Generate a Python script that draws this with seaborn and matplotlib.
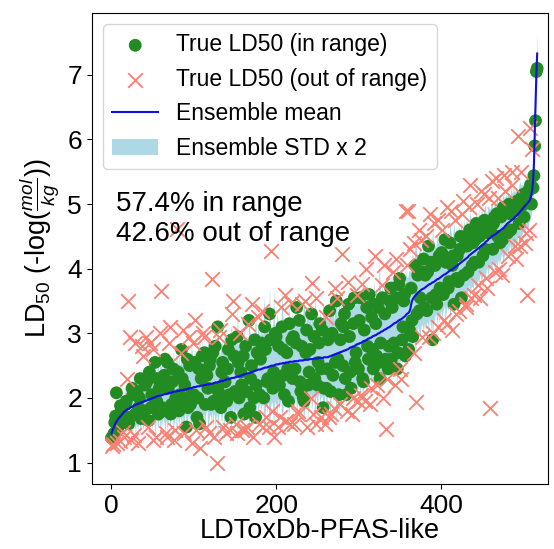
import numpy as np
import pandas as pd
import matplotlib
matplotlib.use("Agg")
import matplotlib.pyplot as plt
import seaborn as sns

# ---- data: one value per compound, compounds sorted by ensemble mean ----
ens_mean = [
    1.45, 1.49, 1.52, 1.55, 1.58, 1.61, 1.63, 1.65, 1.67, 1.69, 1.70, 1.72, 1.73, 1.75, 1.76, 1.78, 1.79, 1.80, 1.81, 1.82,
    1.83, 1.83, 1.84, 1.85, 1.86, 1.86, 1.87, 1.88, 1.89, 1.89, 1.90, 1.90, 1.91, 1.91, 1.92, 1.92, 1.93, 1.93, 1.94, 1.94,
    1.95, 1.95, 1.96, 1.96, 1.97, 1.97, 1.98, 1.98, 1.99, 1.99, 2.00, 2.00, 2.01, 2.01, 2.02, 2.02, 2.03, 2.03, 2.04, 2.04,
    2.04, 2.04, 2.05, 2.05, 2.06, 2.06, 2.06, 2.06, 2.07, 2.07, 2.08, 2.08, 2.08, 2.08, 2.09, 2.09, 2.10, 2.10, 2.10, 2.10,
    2.11, 2.11, 2.11, 2.11, 2.12, 2.12, 2.12, 2.12, 2.13, 2.13, 2.13, 2.13, 2.14, 2.14, 2.15, 2.15, 2.15, 2.15, 2.16, 2.16,
    2.17, 2.17, 2.17, 2.17, 2.18, 2.18, 2.18, 2.18, 2.19, 2.19, 2.19, 2.19, 2.20, 2.20, 2.20, 2.20, 2.21, 2.21, 2.21, 2.21,
    2.22, 2.22, 2.22, 2.22, 2.23, 2.23, 2.24, 2.24, 2.24, 2.24, 2.25, 2.25, 2.26, 2.26, 2.26, 2.26, 2.27, 2.27, 2.28, 2.28,
    2.29, 2.29, 2.29, 2.29, 2.30, 2.30, 2.31, 2.31, 2.31, 2.31, 2.32, 2.32, 2.33, 2.33, 2.33, 2.33, 2.34, 2.34, 2.35, 2.35,
    2.36, 2.36, 2.37, 2.37, 2.38, 2.38, 2.38, 2.38, 2.39, 2.39, 2.40, 2.40, 2.41, 2.41, 2.42, 2.42, 2.43, 2.43, 2.44, 2.44,
    2.44, 2.44, 2.45, 2.45, 2.46, 2.46, 2.47, 2.47, 2.47, 2.47, 2.48, 2.48, 2.49, 2.49, 2.50, 2.50, 2.50, 2.50, 2.51, 2.51,
    2.52, 2.52, 2.52, 2.52, 2.53, 2.53, 2.53, 2.53, 2.54, 2.54, 2.54, 2.54, 2.55, 2.55, 2.55, 2.55, 2.56, 2.56, 2.56, 2.56,
    2.56, 2.56, 2.57, 2.57, 2.57, 2.57, 2.57, 2.57, 2.58, 2.58, 2.58, 2.58, 2.58, 2.58, 2.59, 2.59, 2.59, 2.59, 2.59, 2.59,
    2.60, 2.60, 2.60, 2.60, 2.60, 2.60, 2.61, 2.61, 2.61, 2.61, 2.61, 2.61, 2.62, 2.62, 2.62, 2.62, 2.62, 2.62, 2.63, 2.63,
    2.63, 2.63, 2.63, 2.63, 2.64, 2.64, 2.65, 2.65, 2.66, 2.66, 2.67, 2.67, 2.68, 2.68, 2.69, 2.69, 2.70, 2.70, 2.71, 2.71,
    2.72, 2.72, 2.73, 2.73, 2.74, 2.74, 2.75, 2.75, 2.76, 2.77, 2.78, 2.78, 2.79, 2.79, 2.80, 2.80, 2.81, 2.82, 2.83, 2.83,
    2.84, 2.84, 2.85, 2.85, 2.86, 2.87, 2.88, 2.88, 2.89, 2.89, 2.90, 2.91, 2.92, 2.92, 2.93, 2.93, 2.94, 2.95, 2.96, 2.96,
    2.97, 2.97, 2.98, 2.99, 3.00, 3.00, 3.01, 3.02, 3.03, 3.03, 3.04, 3.05, 3.06, 3.06, 3.07, 3.08, 3.09, 3.09, 3.10, 3.11,
    3.12, 3.13, 3.14, 3.15, 3.16, 3.16, 3.17, 3.18, 3.19, 3.20, 3.21, 3.21, 3.22, 3.23, 3.24, 3.25, 3.26, 3.27, 3.29, 3.30,
    3.31, 3.32, 3.34, 3.38, 3.45, 3.50, 3.53, 3.55, 3.57, 3.58, 3.60, 3.61, 3.63, 3.64, 3.65, 3.66, 3.67, 3.68, 3.69, 3.69,
    3.70, 3.71, 3.72, 3.73, 3.74, 3.75, 3.76, 3.76, 3.77, 3.78, 3.79, 3.79, 3.80, 3.81, 3.82, 3.83, 3.84, 3.84, 3.85, 3.86,
    3.87, 3.88, 3.89, 3.90, 3.91, 3.91, 3.92, 3.93, 3.94, 3.95, 3.96, 3.97, 3.98, 3.98, 3.99, 4.00, 4.01, 4.02, 4.03, 4.04,
    4.05, 4.06, 4.07, 4.08, 4.09, 4.10, 4.11, 4.12, 4.13, 4.14, 4.15, 4.16, 4.17, 4.18, 4.20, 4.21, 4.22, 4.23, 4.24, 4.25,
    4.26, 4.27, 4.28, 4.29, 4.30, 4.31, 4.32, 4.33, 4.34, 4.35, 4.36, 4.37, 4.38, 4.39, 4.41, 4.42, 4.43, 4.44, 4.46, 4.47,
    4.48, 4.49, 4.50, 4.51, 4.52, 4.52, 4.53, 4.54, 4.55, 4.56, 4.57, 4.58, 4.59, 4.60, 4.61, 4.62, 4.63, 4.64, 4.66, 4.67,
    4.69, 4.70, 4.71, 4.72, 4.73, 4.74, 4.75, 4.76, 4.77, 4.78, 4.80, 4.81, 4.82, 4.83, 4.85, 4.86, 4.88, 4.89, 4.91, 4.92,
    4.94, 4.95, 4.97, 4.98, 5.00, 5.01, 5.03, 5.04, 5.06, 5.10, 5.15, 5.22, 5.35, 5.60, 6.10, 6.55, 7.00, 7.33,
]

ens_std = [
    0.08, 0.09, 0.10, 0.12, 0.09, 0.14, 0.23, 0.11, 0.10, 0.15, 0.12, 0.10, 0.11, 0.16, 0.13, 0.12, 0.12, 0.18, 0.14, 0.13,
    0.13, 0.19, 0.16, 0.14, 0.12, 0.21, 0.18, 0.15, 0.14, 0.24, 0.15, 0.17, 0.20, 0.14, 0.13, 0.26, 0.17, 0.16, 0.22, 0.19,
    0.15, 0.22, 0.19, 0.16, 0.14, 0.30, 0.24, 0.18, 0.17, 0.25, 0.16, 0.20, 0.21, 0.33, 0.18, 0.17, 0.26, 0.22, 0.15, 0.28,
    0.20, 0.26, 0.17, 0.21, 0.23, 0.36, 0.19, 0.24, 0.30, 0.20, 0.18, 0.27, 0.22, 0.19, 0.16, 0.31, 0.25, 0.21, 0.20, 0.38,
    0.18, 0.23, 0.27, 0.20, 0.21, 0.40, 0.19, 0.25, 0.24, 0.22, 0.17, 0.29, 0.33, 0.21, 0.20, 0.27, 0.22, 0.35, 0.26, 0.23,
    0.21, 0.30, 0.19, 0.24, 0.28, 0.22, 0.23, 0.50, 0.20, 0.26, 0.35, 0.23, 0.22, 0.31, 0.25, 0.21, 0.19, 0.37, 0.29, 0.24,
    0.24, 0.29, 0.21, 0.34, 0.26, 0.23, 0.38, 0.27, 0.22, 0.52, 0.27, 0.24, 0.20, 0.30, 0.31, 0.25, 0.23, 0.39, 0.25, 0.28,
    0.22, 0.33, 0.28, 0.25, 0.24, 0.42, 0.36, 0.26, 0.21, 0.31, 0.26, 0.24, 0.30, 0.55, 0.23, 0.29, 0.27, 0.25, 0.41, 0.30,
    0.25, 0.37, 0.22, 0.28, 0.29, 0.26, 0.24, 0.50, 0.33, 0.27, 0.26, 0.32, 0.23, 0.29, 0.31, 0.44, 0.27, 0.25, 0.35, 0.30,
    0.24, 0.34, 0.30, 0.27, 0.26, 0.55, 0.45, 0.31, 0.28, 0.36, 0.25, 0.40, 0.62, 0.33, 0.29, 0.28, 0.33, 0.60, 0.27, 0.31,
    0.30, 0.42, 0.26, 0.33, 0.34, 0.29, 0.28, 0.58, 0.39, 0.30, 0.27, 0.35, 0.31, 0.28, 0.25, 0.45, 0.36, 0.30, 0.29, 0.38,
    0.27, 0.36, 0.33, 0.29, 0.29, 0.55, 0.26, 0.31, 0.40, 0.34, 0.28, 0.30, 0.31, 0.42, 0.45, 0.29, 0.27, 0.35, 0.32, 0.46,
    0.29, 0.33, 0.26, 0.40, 0.34, 0.28, 0.30, 0.58, 0.28, 0.32, 0.37, 0.29, 0.27, 0.36, 0.31, 0.30, 0.29, 0.44, 0.35, 0.31,
    0.28, 0.38, 0.32, 0.29, 0.27, 0.45, 0.42, 0.31, 0.30, 0.36, 0.26, 0.33, 0.33, 0.60, 0.29, 0.31, 0.47, 0.34, 0.28, 0.40,
    0.31, 0.36, 0.27, 0.33, 0.35, 0.42, 0.30, 0.29, 0.50, 0.34, 0.29, 0.38, 0.33, 0.30, 0.28, 0.55, 0.36, 0.32, 0.31, 0.39,
    0.30, 0.34, 0.38, 0.31, 0.28, 0.56, 0.33, 0.30, 0.29, 0.37, 0.44, 0.32, 0.31, 0.40, 0.27, 0.33, 0.35, 0.29, 0.30, 0.43,
    0.29, 0.36, 0.34, 0.30, 0.28, 0.55, 0.40, 0.32, 0.31, 0.35, 0.27, 0.30, 0.33, 0.41, 0.30, 0.29, 0.37, 0.33, 0.28, 0.39,
    0.32, 0.38, 0.29, 0.31, 0.36, 0.30, 0.27, 0.55, 0.31, 0.33, 0.41, 0.29, 0.28, 0.35, 0.33, 0.30, 0.26, 0.37, 0.30, 0.28,
    0.28, 0.33, 0.31, 0.30, 0.27, 0.36, 0.34, 0.29, 0.29, 0.50, 0.38, 0.31, 0.26, 0.30, 0.32, 0.35, 0.28, 0.27, 0.30, 0.33,
    0.27, 0.31, 0.33, 0.28, 0.29, 0.38, 0.26, 0.30, 0.36, 0.29, 0.46, 0.32, 0.31, 0.27, 0.25, 0.35, 0.30, 0.28, 0.34, 0.29,
    0.26, 0.32, 0.30, 0.27, 0.24, 0.36, 0.33, 0.26, 0.28, 0.30, 0.25, 0.39, 0.31, 0.27, 0.23, 0.29, 0.35, 0.26, 0.27, 0.31,
    0.24, 0.28, 0.29, 0.25, 0.26, 0.34, 0.23, 0.27, 0.32, 0.24, 0.25, 0.30, 0.28, 0.24, 0.22, 0.33, 0.30, 0.25, 0.26, 0.29,
    0.23, 0.26, 0.27, 0.31, 0.25, 0.24, 0.30, 0.22, 0.22, 0.28, 0.26, 0.23, 0.24, 0.29, 0.28, 0.22, 0.21, 0.27, 0.25, 0.23,
    0.22, 0.25, 0.26, 0.21, 0.20, 0.27, 0.24, 0.22, 0.28, 0.23, 0.21, 0.26, 0.23, 0.20, 0.19, 0.25, 0.25, 0.22, 0.22, 0.24,
    0.20, 0.24, 0.23, 0.19, 0.18, 0.26, 0.22, 0.20, 0.25, 0.21, 0.19, 0.23, 0.21, 0.18, 0.17, 0.22, 0.24, 0.20, 0.20, 0.19,
    0.18, 0.20, 0.21, 0.17, 0.17, 0.19, 0.20, 0.16, 0.16, 0.15, 0.15, 0.14, 0.14, 0.14, 0.13, 0.15, 0.14, 0.15,
]

true_ld50 = [
    1.38, 1.25, 1.28, 1.45, 1.62, 1.72, 2.08, 1.30, 1.55, 1.58, 1.33, 1.88, 1.80, 1.62, 1.48, 1.40, 1.70, 1.90, 1.95, 2.30,
    3.50, 1.60, 1.70, 2.95, 1.35, 2.15, 2.05, 1.42, 2.85, 1.75, 1.75, 2.10, 1.30, 1.85, 2.00, 2.30, 1.68, 2.80, 2.65, 1.70,
    1.80, 2.20, 2.95, 2.25, 1.55, 1.65, 2.40, 2.85, 1.85, 2.05, 2.75, 1.35, 1.90, 2.55, 1.40, 1.95, 2.30, 1.75, 2.15, 3.00,
    3.65, 2.30, 1.85, 1.80, 2.35, 2.60, 1.45, 1.40, 2.55, 2.15, 2.85, 3.10, 1.75, 1.90, 2.25, 2.45, 1.35, 1.50, 2.00, 1.85,
    4.62, 2.40, 1.80, 2.05, 2.70, 2.75, 2.30, 3.05, 1.45, 2.20, 1.95, 1.55, 2.60, 1.85, 2.95, 2.50, 1.90, 2.05, 1.30, 2.85,
    2.05, 2.55, 3.20, 1.50, 1.70, 2.00, 2.45, 1.60, 1.22, 2.30, 2.65, 3.00, 2.95, 2.70, 1.90, 1.55, 2.35, 2.15, 1.45, 2.50,
    2.60, 1.90, 3.84, 2.70, 1.95, 1.40, 2.80, 2.15, 1.00, 3.10, 2.10, 2.95, 3.05, 1.85, 2.40, 2.55, 1.55, 2.00, 2.25, 1.45,
    1.95, 2.45, 2.75, 2.05, 1.50, 1.70, 2.90, 3.30, 3.50, 2.65, 2.10, 1.60, 1.45, 2.95, 2.55, 2.00, 3.00, 2.40, 2.20, 1.50,
    2.65, 1.75, 1.50, 2.80, 2.10, 1.55, 3.15, 3.20, 1.85, 2.30, 2.50, 3.45, 1.40, 2.00, 2.90, 1.70, 2.20, 2.70, 3.25, 1.60,
    2.05, 2.60, 2.85, 3.35, 1.55, 2.00, 3.10, 2.75, 1.70, 2.25, 2.30, 1.55, 3.30, 2.90, 4.27, 1.80, 2.15, 2.40, 1.40, 3.00,
    2.95, 2.25, 1.55, 2.80, 2.20, 1.70, 3.40, 3.10, 2.75, 2.35, 2.05, 3.60, 1.65, 2.70, 2.45, 1.95, 3.15, 1.60, 3.47, 2.90,
    2.30, 2.95, 1.60, 2.45, 2.85, 3.40, 1.75, 1.80, 3.20, 2.25, 2.10, 2.80, 3.45, 2.00, 1.95, 3.50, 2.70, 3.05, 1.55, 2.20,
    2.40, 2.75, 2.00, 3.30, 3.78, 1.75, 2.95, 2.30, 1.60, 3.55, 2.20, 2.55, 2.85, 3.15, 1.70, 2.45, 3.05, 1.85, 2.15, 1.60,
    3.25, 2.15, 2.45, 2.90, 1.70, 3.35, 2.10, 1.75, 3.00, 2.35, 1.85, 3.70, 2.55, 3.50, 3.55, 2.60, 2.05, 1.90, 2.90, 3.15,
    4.22, 2.50, 3.10, 3.30, 2.30, 2.05, 1.80, 3.80, 3.45, 2.95, 2.40, 2.15, 1.75, 2.00, 3.15, 3.55, 2.55, 2.70, 3.60, 1.95,
    2.45, 3.20, 3.55, 2.05, 3.76, 2.30, 2.25, 3.05, 1.95, 4.00, 3.40, 2.80, 2.60, 3.60, 1.90, 2.15, 3.25, 2.75, 2.45, 3.45,
    4.19, 3.15, 2.65, 2.20, 3.40, 2.55, 2.30, 2.85, 3.75, 3.55, 2.00, 4.05, 3.30, 2.60, 1.52, 2.30, 2.45, 2.80, 3.50, 3.70,
    2.60, 3.40, 3.95, 2.85, 2.20, 4.15, 3.55, 2.45, 2.70, 3.75, 3.85, 2.45, 2.30, 2.90, 3.10, 3.50, 3.60, 2.65, 4.89, 4.05,
    4.89, 2.75, 3.05, 4.30, 3.70, 3.20, 2.95, 2.70, 4.40, 4.05, 1.93, 3.30, 3.90, 4.60, 3.35, 3.55, 4.45, 2.95, 3.95, 4.15,
    3.40, 3.90, 4.50, 3.35, 3.95, 4.35, 2.95, 4.85, 4.10, 3.55, 2.90, 3.00, 4.70, 4.05, 3.60, 3.45, 3.10, 4.75, 4.20, 3.70,
    3.65, 4.25, 4.60, 3.60, 3.20, 4.45, 4.10, 4.95, 3.15, 3.70, 3.80, 4.40, 4.90, 3.05, 4.05, 4.20, 3.45, 4.75, 3.30, 3.85,
    4.20, 3.80, 3.35, 4.30, 4.50, 3.55, 4.85, 5.05, 3.90, 4.45, 3.40, 3.45, 4.35, 3.95, 4.95, 4.60, 5.30, 3.55, 4.05, 4.40,
    3.60, 4.10, 4.45, 4.70, 5.00, 3.75, 4.10, 4.50, 3.55, 5.20, 4.60, 4.20, 5.15, 4.75, 4.30, 3.85, 3.70, 4.65, 4.55, 5.10,
    1.85, 4.65, 5.35, 4.30, 4.70, 4.80, 3.95, 5.40, 4.85, 4.50, 5.10, 4.00, 4.40, 4.80, 3.90, 4.45, 4.95, 5.45, 5.20, 4.90,
    4.95, 4.55, 4.20, 5.00, 4.85, 4.60, 5.30, 5.50, 4.90, 4.95, 4.35, 4.15, 5.00, 5.05, 6.05, 4.70, 4.35, 5.50, 5.10, 4.98,
    5.15, 4.80, 4.40, 5.10, 4.55, 3.60, 5.20, 4.60, 6.17, 5.30, 5.00, 5.85, 5.25, 5.44, 5.90, 6.29, 7.05, 7.10,
]

in_range_text = "57.4% in range\n42.6% out of range"
x_ticks = [0, 200, 400]
y_ticks = [1, 2, 3, 4, 5, 6, 7]

assert len(ens_mean) == len(ens_std) == len(true_ld50), (
    len(ens_mean), len(ens_std), len(true_ld50))

# ---- build table ----
df = pd.DataFrame({
    "idx": np.arange(len(ens_mean)),
    "mean": ens_mean,
    "std": ens_std,
    "true": true_ld50,
})
df["lo"] = df["mean"] - 2 * df["std"]
df["hi"] = df["mean"] + 2 * df["std"]
df["in_range"] = (df["true"] >= df["lo"]) & (df["true"] <= df["hi"])

plt.rcParams["font.family"] = ["Liberation Sans", "DejaVu Sans"]
plt.rcParams["mathtext.fontset"] = "custom"
plt.rcParams["mathtext.rm"] = "Liberation Sans"
plt.rcParams["mathtext.it"] = "Liberation Sans:italic"

fig = plt.figure(figsize=(5.54, 5.49), dpi=100)
ax = fig.add_axes([0.1655, 0.1184, 0.8242, 0.8585])

ax.fill_between(df["idx"], df["lo"], df["hi"], color="lightblue",
                linewidth=0, zorder=1, label="Ensemble STD x 2")
sns.scatterplot(data=df[df["in_range"]], x="idx", y="true", ax=ax,
                color="forestgreen", s=85, edgecolor="none", zorder=2,
                label="True LD50 (in range)")
sns.scatterplot(data=df[~df["in_range"]], x="idx", y="true", ax=ax,
                color="salmon", marker="x", s=110, linewidth=1.3, zorder=3,
                label="True LD50 (out of range)")
sns.lineplot(data=df, x="idx", y="mean", ax=ax, color="#1010e0",
             linewidth=1.5, zorder=4, label="Ensemble mean")

handles, labels = ax.get_legend_handles_labels()
order = ["True LD50 (in range)", "True LD50 (out of range)",
         "Ensemble mean", "Ensemble STD x 2"]
hmap = dict(zip(labels, handles))
ax.legend([hmap[o] for o in order], order, loc="upper left", fontsize=16.5,
          handlelength=2.0, borderaxespad=0.5)

ax.text(0.053, 0.562, in_range_text, transform=ax.transAxes, fontsize=20,
        va="center", ha="left")

ax.set_xlim(-24, 530.5)
ax.set_xticks(x_ticks)
ax.set_yticks(y_ticks)
ax.tick_params(labelsize=19)
ax.set_xlabel("LDToxDb-PFAS-like", fontsize=19.5, labelpad=0)
ax.set_ylabel(r"LD$_{50}$ (-log($\frac{mol}{kg}$))", fontsize=19.5)

fig.savefig("out.png", dpi=100)
